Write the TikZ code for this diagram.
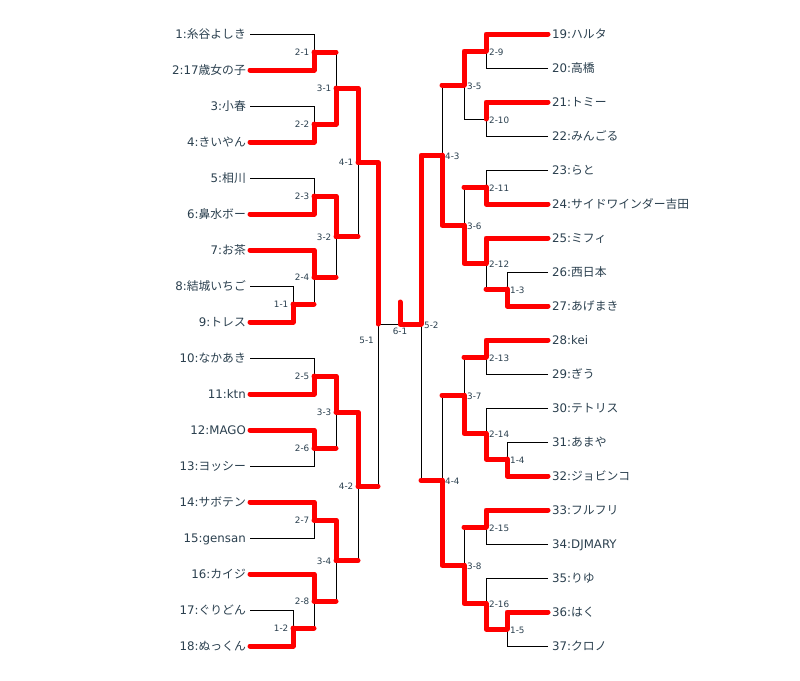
\documentclass[tikz,border=0pt]{standalone}
\usepackage{fontspec}
\setmainfont{DejaVu Sans}
\newfontfamily\jp{Noto Sans CJK JP}
\definecolor{txt}{RGB}{42,63,78}
\begin{document}
\begin{tikzpicture}[x=1pt,y=-1pt,
  bl/.style={black,line width=1pt},
  rd/.style={red,line width=5pt,line cap=round,line join=round},
  pl/.style={inner sep=0pt,text=txt,font=\fontsize{11.8}{13}\selectfont},
  ml/.style={inner sep=0pt,text=txt,font=\fontsize{8.8}{10}\selectfont},
  mlL/.style={ml,anchor=base east,xshift=-4.5pt,yshift=-3.5pt},
  mlR/.style={ml,anchor=base west,xshift=3pt,yshift=-4pt}]
\path[use as bounding box] (0,0) rectangle (800,680);
% players left
\foreach \i/\nm in {1/{\jp 糸谷よしき},2/{17\jp 歳女の子},3/{\jp 小春},4/{\jp きいやん},5/{\jp 相川},6/{\jp 鼻水ボー},7/{\jp お茶},8/{\jp 結城いちご},9/{\jp トレス},10/{\jp なかあき},11/{ktn},12/{MAGO},13/{\jp ヨッシー},14/{\jp サボテン},15/{gensan},16/{\jp カイジ},17/{\jp ぐりどん},18/{\jp ぬっくん}}{
  \coordinate (a\i) at (250,{34+36*(\i-1)});
  \node[pl,anchor=base east] (n\i) at (246,{38+36*(\i-1)}) {\i:\nm};
}
% players right
\foreach \i/\nm in {19/{\jp ハルタ},20/{\jp 高橋},21/{\jp トミー},22/{\jp みんごる},23/{\jp らと},24/{\jp サイドワインダー吉田},25/{\jp ミフィ},26/{\jp 西日本},27/{\jp あげまき},28/{kei},29/{\jp ぎう},30/{\jp テトリス},31/{\jp あまや},32/{\jp ジョビンコ},33/{\jp フルフリ},34/{DJMARY},35/{\jp りゆ},36/{\jp はく},37/{\jp クロノ}}{
  \coordinate (a\i) at (548,{34+34*(\i-19)});
  \node[pl,anchor=base west] (n\i) at (552,{38+34*(\i-19)}) {\i:\nm};
}
% match points
\coordinate (m11) at (293,304);   \coordinate (m12) at (293,628);
\coordinate (m21) at (314,52);    \coordinate (m22) at (314,124);
\coordinate (m23) at (314,196);   \coordinate (m24) at (314,277);
\coordinate (m25) at (314,376);   \coordinate (m26) at (314,448);
\coordinate (m27) at (314,520);   \coordinate (m28) at (314,601);
\coordinate (m31) at (336,88);    \coordinate (m32) at (336,236.5);
\coordinate (m33) at (336,412);   \coordinate (m34) at (336,560.5);
\coordinate (m41) at (358,162.25);\coordinate (m42) at (358,486.25);
\coordinate (m51) at (378,324);
\coordinate (m13) at (507,289);   \coordinate (m14) at (507,459);
\coordinate (m15) at (507,629);
\coordinate (m29) at (486,51);    \coordinate (m210) at (486,119);
\coordinate (m211) at (486,187);  \coordinate (m212) at (486,263.5);
\coordinate (m213) at (486,357);  \coordinate (m214) at (486,433.5);
\coordinate (m215) at (486,527);  \coordinate (m216) at (486,603.5);
\coordinate (m35) at (464,85);    \coordinate (m36) at (464,225.25);
\coordinate (m37) at (464,395.25);\coordinate (m38) at (464,565.25);
\coordinate (m43) at (442,155.1); \coordinate (m44) at (442,480.25);
\coordinate (m52) at (421,324);
\coordinate (m61) at (400,324);   \coordinate (champ) at (400,302);
% black bracket lines
\foreach \m/\a/\b in {m11/a8/a9,m12/a17/a18,m21/a1/a2,m22/a3/a4,m23/a5/a6,m24/a7/m11,m25/a10/a11,m26/a12/a13,m27/a14/a15,m28/a16/m12,m31/m21/m22,m32/m23/m24,m33/m25/m26,m34/m27/m28,m41/m31/m32,m42/m33/m34,m51/m41/m42,m13/a26/a27,m14/a31/a32,m15/a36/a37,m29/a19/a20,m210/a21/a22,m211/a23/a24,m212/a25/m13,m213/a28/a29,m214/a30/m14,m215/a33/a34,m216/a35/m15,m35/m29/m210,m36/m211/m212,m37/m213/m214,m38/m215/m216,m43/m35/m36,m44/m37/m38,m52/m43/m44}{
  \draw[bl] (\a) -| (\m) (\b) -| (\m);
}
\draw[bl] (m51) -- (m52);
% red winner paths
\foreach \w/\m in {a9/m11,a18/m12,a2/m21,a4/m22,a6/m23,a7/m24,a11/m25,a12/m26,a14/m27,a16/m28,m22/m31,m23/m32,m25/m33,m27/m34,m31/m41,m33/m42,m41/m51,a27/m13,a32/m14,a36/m15,a19/m29,a21/m210,a24/m211,a25/m212,a28/m213,m14/m214,a33/m215,m15/m216,m29/m35,m212/m36,m214/m37,m216/m38,m36/m43,m38/m44,m43/m52}{
  \draw[rd] (\w) -| (\m);
}
% red outputs of losing matches
\foreach \l/\m in {m11/m24,m12/m28,m21/m31,m24/m32,m26/m33,m28/m34,m32/m41,m34/m42,m42/m51,m13/m212,m211/m36,m213/m37,m215/m38,m35/m43,m37/m44,m44/m52}{
  \draw[rd] (\l) -- (\l -| \m);
}
\draw[rd] (m52) -- (m61) -- (champ);
% match labels
\foreach \m/\t in {m11/1-1,m12/1-2,m21/2-1,m22/2-2,m23/2-3,m24/2-4,m25/2-5,m26/2-6,m27/2-7,m28/2-8,m31/3-1,m32/3-2,m33/3-3,m34/3-4,m41/4-1,m42/4-2}{
  \node[mlL] (l\m) at (\m) {\t};
}
\foreach \m/\t in {m13/1-3,m14/1-4,m15/1-5,m29/2-9,m210/2-10,m211/2-11,m212/2-12,m213/2-13,m214/2-14,m215/2-15,m216/2-16,m35/3-5,m36/3-6,m37/3-7,m38/3-8,m43/4-3,m44/4-4,m52/5-2}{
  \node[mlR] (l\m) at (\m) {\t};
}
\node[ml,anchor=base east] (lm51) at (374,343) {5-1};
\node[ml,anchor=base] (lm61) at (400,334) {6-1};
\end{tikzpicture}
\end{document}
